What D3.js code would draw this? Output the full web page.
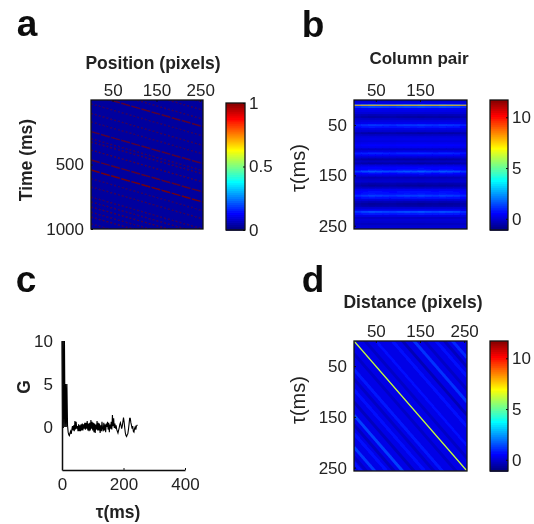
<!DOCTYPE html>
<html>
<head>
<meta charset="utf-8">
<script src="https://d3js.org/d3.v7.min.js"></script>
<style>
  html, body { margin: 0; background: #fff; }
  svg { display: block; }
  text { font-family: "Liberation Sans", Arial, sans-serif; fill: #222; }
  .tick text { font-size: 17px; }
  .tick line, .domain { stroke: #111; }
  .title { font-size: 17.5px; font-weight: bold; }
  .pair { font-size: 17px; font-weight: bold; }
  .plain { font-size: 20px; }
  .letter { font-size: 37px; font-weight: bold; fill: #111; }
</style>
</head>
<body>
<script>
// panel a: spike streaks, time at position 0 (ms) and how strong they look
var streakTime = [-300, -230, -170, -100, -42, 30, 104, 170, 245, 300, 325, 388, 465, 543, 610, 674, 752, 790, 829, 870, 907, 960];
var streakLevel = [0.4, 0.4, 0.45, 0.45, 0.7, 0.4, 0.45, 0.4, 0.65, 0.45, 0.5, 0.55, 0.7, 0.9, 0.4, 0.45, 0.45, 0.45, 0.55, 0.45, 0.55, 0.4];
var streakSpeed = 0.97; // ms per pixel

// panel b: G per tau row (4 ms rows), and small gain per column block
var rowG = [0.0, 0.2, 1.6, 1.3, 0.4, 0.2, 0.0, -0.4, -0.6, -0.2, 0.1, 0.3, 1.1, 0.7, 0.2, -0.1,
  -0.6, -0.2, 0.1, 0.2, 0.1, 0.3, 0.5, 0.3, -0.2, 0.2, 0.9, 0.4, -0.1, -0.6, -0.3, -0.6,
  0.1, 0.5, 0.6, 1.5, 0.6, 0.1, -0.4, -0.2, -0.1, -0.5, -0.7, -0.3, 0.3, 0.6, 0.7, 1.2,
  0.7, 0.1, -0.4, -0.7, -0.6, -0.1, 0.3, 1.4, 0.8, 0.2, -0.2, 0.0, -0.1, -0.3, -0.1, 0.0];
var columnGain = [0.8, 0.95, 1.05, 1.0, 0.95, 0.9, 1.0, 1.05, 1.0, 1.1, 1.0, 0.95, 1.05, 1.0, 0.95, 0.75];
var peakTau = 11;
var peakG = 7.8;

// panel c: G against tau, sampled every 2 ms
var sampleStep = 2;
var gValues = [10, 0, 10, 0, 10, 0, 5, 0, 5, 0.2, -0.6, -0.9, -1.0, -0.7, -0.5, -0.8, -0.3, 0.1, -0.4, 0.2, -0.5,
  0.7, -0.3, 0.6, -0.2, 0.1, -0.5, 0.3, -0.5, 0.2, -0.5, 0.3, -0.4, 0.4, -0.4, 0.3, -0.2, 0.5, -0.3, 0.5, -0.2, 0.7,
  -0.4, 0.4, -0.5, 0.5, -0.4, 0.8, -0.2, 0.6, -0.4, 0.5, -0.6, 0.4, -0.7, 0.3, -0.3, 0.7, -0.4, 0.5, -0.4, 0.4, -0.7,
  0.2, -0.5, 0.6, -0.2, -0.5, 0.5, -0.4, 0.3, -0.6, 0.4, 0.0, 0.6, -0.3, 0.5, -0.6, 0.3, -0.2,
  0.6, -0.3, 1.4, 0.1, 1.0, -0.1, 0.4, -0.2, 0.2, -0.3, -0.5, -0.7,
  -0.4, -0.1, 0.3, 0.5, 0.2, -0.2, 0.1, 0.6, 1.1, 0.6, -0.1, -0.7, -1.0, -1.1, -0.9, -0.8, -0.3, 0.3, 1.0, 1.0, 0.5,
  0.2, -0.2, 0.1, -0.5, -0.6, -0.2, 0.0, -0.3, 0.1, 0.2, 0.2];

// panel d: diagonal stripes, tau minus distance (ms) and G
var stripeOffset = [-223, -205, -186, -160, -136, -110, -87, -50, -25, 25, 56, 75, 96, 120, 146, 165, 182, 209, 228, 240];
var stripeG = [1.0, -0.3, 0.7, -0.2, 1.1, -0.4, 0.7, 0.6, -0.2, -0.2, 0.8, -0.2, 0.7, -0.3, 1.3, -0.3, 0.7, 1.2, -0.2, 0.7];
var diagonalG = 6.2;
var backgroundG = 0.2;

// tick labels
var positionTicks = [50, 150, 250];
var timeTicks = [500, 1000];
var pairTicks = [50, 150];
var tauTicks = [50, 150, 250];
var gAxisTicks = [0, 5, 10];
var tauAxisTicks = [0, 200, 400];

var width = 534,
    height = 524;

var svg = d3.select("body").append("svg")
    .attr("width", width)
    .attr("height", height);

// the reference is a soft, scaled-up raster
var defs = svg.append("defs");
defs.append("filter").attr("id", "soft").append("feGaussianBlur").attr("stdDeviation", 0.4);
defs.append("filter").attr("id", "softer").append("feGaussianBlur").attr("stdDeviation", 0.75);

var root = svg.append("g").attr("filter", "url(#soft)");

// matlab jet
var jetStops = [0, 0.125, 0.375, 0.625, 0.875, 1];
var jetColors = ["#00007f", "#0000ff", "#00ffff", "#ffff00", "#ff0000", "#7f0000"];
function jetScale(lo, hi) {
  return d3.scaleLinear()
      .domain(jetStops.map(function(s) { return lo + s * (hi - lo); }))
      .range(jetColors)
      .clamp(true);
}

function plotBox(id, x0, x1, y0, y1) {
  var g = root.append("g");
  g.append("clipPath").attr("id", id).append("rect")
      .attr("x", x0).attr("y", y0).attr("width", x1 - x0).attr("height", y1 - y0);
  return g.append("g").attr("clip-path", "url(#" + id + ")").append("g").attr("filter", "url(#softer)");
}

function frame(x0, x1, y0, y1) {
  root.append("rect")
      .attr("x", x0).attr("y", y0).attr("width", x1 - x0).attr("height", y1 - y0)
      .attr("fill", "none").attr("stroke", "#111").attr("stroke-width", 1.3);
}

function topAxis(scale, y, ticks) {
  var g = root.append("g").attr("transform", "translate(0," + y + ")")
      .call(d3.axisTop(scale).tickValues(ticks).tickSize(-2).tickSizeOuter(0).tickPadding(4));
  g.select(".domain").remove();
}

function leftAxis(scale, x, ticks) {
  var g = root.append("g").attr("transform", "translate(" + x + ",0)")
      .call(d3.axisLeft(scale).tickValues(ticks).tickFormat(d3.format("d")).tickSize(-2).tickSizeOuter(0).tickPadding(7));
  g.select(".domain").remove();
}

function colorbar(x0, x1, y0, y1, lo, hi, ticks, fmt) {
  var jet = jetScale(lo, hi);
  var y = d3.scaleLinear().domain([lo, hi]).range([y1, y0]);
  var levels = d3.range(64).map(function(i) { return lo + i * (hi - lo) / 64; });
  root.append("g").selectAll("rect")
      .data(levels)
      .enter().append("rect")
      .attr("x", x0)
      .attr("width", x1 - x0)
      .attr("y", function(d) { return y(d + (hi - lo) / 64); })
      .attr("height", Math.abs(y(lo) - y(lo + (hi - lo) / 64)) + 0.8)
      .attr("fill", function(d) { return jet(d); });
  frame(x0, x1, y0, y1);
  var g = root.append("g").attr("transform", "translate(" + x1 + ",0)")
      .call(d3.axisRight(y).tickValues(ticks).tickFormat(fmt).tickSize(-2).tickSizeOuter(0).tickPadding(4));
  g.select(".domain").remove();
}

function label(txt, x, y, cls, rotate) {
  root.append("text")
      .attr("class", cls)
      .attr("text-anchor", "middle")
      .attr("transform", "translate(" + x + "," + y + ")" + (rotate ? " rotate(-90)" : ""))
      .text(txt);
}

// ---- panel a
var ax = d3.scaleLinear().domain([0.5, 256.5]).range([91, 203]);
var ay = d3.scaleLinear().domain([0, 1000]).range([100, 229]);
var jetA = jetScale(0, 1);
var plotA = plotBox("clip-a", 91, 203, 100, 229);
plotA.append("rect").attr("x", 85).attr("y", 94).attr("width", 124).attr("height", 141).attr("fill", jetA(0.03));
plotA.selectAll("line")
    .data(streakTime)
    .enter().append("line")
    .attr("x1", ax(0.5))
    .attr("x2", ax(256.5))
    .attr("y1", function(d) { return ay(d); })
    .attr("y2", function(d) { return ay(d + streakSpeed * 256); })
    .attr("stroke", jetA(1))
    .attr("stroke-width", 1.5)
    .attr("stroke-dasharray", function(d, i) { return streakLevel[i] > 0.6 ? "9 1.5" : "2 2"; })
    .attr("opacity", function(d, i) { return streakLevel[i]; });
frame(91, 203, 100, 229);
topAxis(ax, 100, positionTicks);
leftAxis(ay, 91, timeTicks);
colorbar(226, 245, 103, 230, 0, 1, [0, 0.5, 1], d3.format("~g"));

// ---- panel b
var bx = d3.scaleLinear().domain([0.5, 256.5]).range([354, 467]);
var by = d3.scaleLinear().domain([0.5, 256.5]).range([100, 229]);
var jetG = jetScale(-1.1, 11.7);
var plotB = plotBox("clip-b", 354, 467, 100, 229);
plotB.append("rect").attr("x", 348).attr("y", 94).attr("width", 125).attr("height", 141).attr("fill", jetG(0));
var blockW = 256 / columnGain.length;
rowG.forEach(function(g, r) {
  columnGain.forEach(function(gain, c) {
    plotB.append("rect")
        .attr("x", bx(0.5 + c * blockW))
        .attr("width", bx(0.5 + blockW) - bx(0.5) + 1)
        .attr("y", by(0.5 + r * 4))
        .attr("height", by(4.5) - by(0.5) + 1)
        .attr("fill", jetG(g * gain));
  });
});
plotB.append("line")
    .attr("x1", bx(0.5))
    .attr("x2", bx(256.5))
    .attr("y1", by(peakTau))
    .attr("y2", by(peakTau))
    .attr("stroke", jetG(peakG))
    .attr("stroke-width", 1.1);
frame(354, 467, 100, 229);
topAxis(bx, 100, pairTicks);
leftAxis(by, 354, tauTicks);
colorbar(490, 508, 100, 230, -1.1, 11.7, [0, 5, 10], d3.format("d"));

// ---- panel c
var cx = d3.scaleLinear().domain([0, 400]).range([62, 185]);
var cy = d3.scaleLinear().domain([-5, 10]).range([470, 341]);
var gLine = d3.line()
    .x(function(d, i) { return cx(i * sampleStep); })
    .y(function(d) { return cy(d); });
root.append("path")
    .datum(gValues)
    .attr("fill", "none")
    .attr("stroke", "#000")
    .attr("stroke-width", 1.1)
    .attr("d", gLine);
var axisBottomC = root.append("g").attr("transform", "translate(0,470)")
    .call(d3.axisBottom(cx).tickValues(tauAxisTicks).tickSize(-2).tickSizeOuter(0).tickPadding(8));
var axisLeftC = root.append("g").attr("transform", "translate(62,0)")
    .call(d3.axisLeft(cy).tickValues(gAxisTicks).tickSize(-2).tickSizeOuter(0).tickPadding(9));
axisBottomC.select(".domain").attr("stroke-width", 1.5);
axisLeftC.select(".domain").attr("stroke-width", 1.5);

// ---- panel d
var dx = d3.scaleLinear().domain([0.5, 256.5]).range([354, 467]);
var dy = d3.scaleLinear().domain([0.5, 256.5]).range([341, 471]);
var plotD = plotBox("clip-d", 354, 467, 341, 471);
plotD.append("rect").attr("x", 348).attr("y", 335).attr("width", 125).attr("height", 142).attr("fill", jetG(backgroundG));
plotD.selectAll("line.stripe")
    .data(stripeOffset)
    .enter().append("line")
    .attr("class", "stripe")
    .attr("x1", dx(0.5))
    .attr("x2", dx(256.5))
    .attr("y1", function(d) { return dy(0.5 + d); })
    .attr("y2", function(d) { return dy(256.5 + d); })
    .attr("stroke", function(d, i) { return jetG(stripeG[i]); })
    .attr("stroke-width", 3);
plotD.append("line")
    .attr("x1", dx(0.5))
    .attr("x2", dx(256.5))
    .attr("y1", dy(0.5))
    .attr("y2", dy(256.5))
    .attr("stroke", jetG(diagonalG))
    .attr("stroke-width", 1.2);
frame(354, 467, 341, 471);
topAxis(dx, 341, positionTicks);
leftAxis(dy, 354, tauTicks);
colorbar(490, 508, 341, 471, -1.1, 11.7, [0, 5, 10], d3.format("d"));

// ---- titles and panel letters
label("Position (pixels)", 153, 69, "title");
label("Column pair", 419, 64, "pair");
label("Distance (pixels)", 413, 308, "title");
label("Time (ms)", 32, 160, "title", true);
label("τ(ms)", 305, 168, "plain", true);
label("G", 30, 387, "title", true);
label("τ(ms)", 118, 518, "title");
label("τ(ms)", 305, 400, "plain", true);
label("a", 27, 36, "letter");
label("b", 313, 37, "letter");
label("c", 26, 292, "letter");
label("d", 313, 292, "letter");
</script>
</body>
</html>
